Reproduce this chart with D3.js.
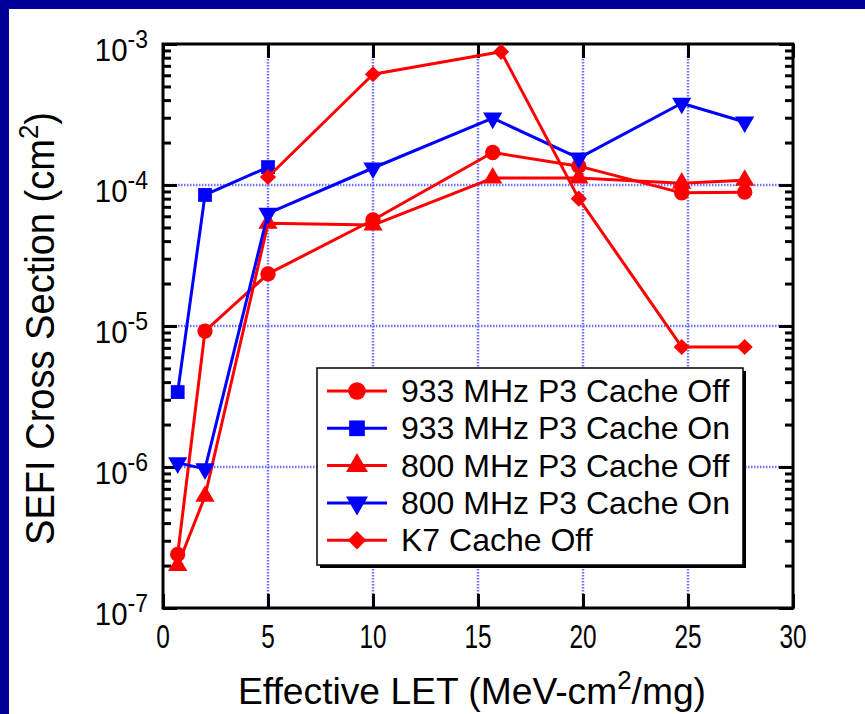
<!DOCTYPE html>
<html>
<head>
<meta charset="utf-8">
<script src="https://cdn.jsdelivr.net/npm/d3@7"></script>
<style>
  body { margin: 0; background: #fff; }
  svg { display: block; }
  text { font-family: "Liberation Sans", Arial, Helvetica, sans-serif; fill: #000; }
</style>
</head>
<body>
<div id="chart"></div>
<script>
// series data (LET in MeV-cm2/mg, cross section in cm2)
var seriesNames = ["933 MHz P3 Cache Off", "933 MHz P3 Cache On", "800 MHz P3 Cache Off", "800 MHz P3 Cache On", "K7 Cache Off"];
var letP3 = [0.7, 2.0, 5.0, 10.0, 15.7, 19.8, 24.7, 27.7];
var letP3On933 = [0.7, 2.0, 5.0];
var letK7 = [5.0, 10.0, 16.1, 19.8, 24.7, 27.7];
var off933 = [2.4e-7, 9.2e-6, 2.34e-5, 5.65e-5, 1.70e-4, 1.36e-4, 8.8e-5, 8.9e-5];
var on933 = [3.4e-6, 8.5e-5, 1.34e-4];
var off800 = [2.0e-7, 6.2e-7, 5.35e-5, 5.2e-5, 1.12e-4, 1.12e-4, 1.03e-4, 1.08e-4];
var on800 = [1.07e-6, 0.97e-6, 6.3e-5, 1.32e-4, 2.98e-4, 1.55e-4, 3.8e-4, 2.8e-4];
var k7Off = [1.14e-4, 6.1e-4, 8.8e-4, 8.0e-5, 7.1e-6, 7.1e-6];

var xTicks = [0, 5, 10, 15, 20, 25, 30];
var yDecades = [-7, -6, -5, -4, -3];

var W = 865, H = 714;
var margin = {top: 44, right: 72, bottom: 106, left: 163},
    width = W - margin.left - margin.right,
    height = H - margin.top - margin.bottom;

var svg = d3.select("#chart")
  .append("svg")
  .attr("width", W)
  .attr("height", H);

// navy frame (top + left)
svg.append("rect").attr("x", 0).attr("y", 0).attr("width", W).attr("height", 9).attr("fill", "#000099");
svg.append("rect").attr("x", 0).attr("y", 0).attr("width", 9).attr("height", H).attr("fill", "#000099");

var g = svg.append("g")
  .attr("transform", "translate(" + margin.left + "," + margin.top + ")");

var x = d3.scaleLinear().domain([0, 30]).range([0, width]);
var y = d3.scaleLog().domain([1e-7, 1e-3]).range([height, 0]);

var majorY = yDecades.map(function(p) { return Math.pow(10, p); });
var minorY = [];
yDecades.slice(0, -1).forEach(function(p) {
  for (var k = 2; k <= 9; k++) minorY.push(k * Math.pow(10, p));
});

// dotted grid
var gridColor = "#7070ff";
g.append("g").selectAll("line")
  .data(xTicks.slice(1, -1))
  .enter().append("line")
  .attr("x1", function(d) { return x(d); }).attr("x2", function(d) { return x(d); })
  .attr("y1", 0).attr("y2", height)
  .attr("stroke", gridColor).attr("stroke-width", 2.5).attr("stroke-dasharray", "1.5,1.5");
g.append("g").selectAll("line")
  .data(majorY.slice(1, -1))
  .enter().append("line")
  .attr("y1", function(d) { return y(d); }).attr("y2", function(d) { return y(d); })
  .attr("x1", 0).attr("x2", width)
  .attr("stroke", gridColor).attr("stroke-width", 2.5).attr("stroke-dasharray", "1.5,1.5");

// inward ticks on all four sides
function tickAxis(axis, tr) {
  var a = g.append("g").attr("transform", tr).call(axis);
  a.select(".domain").remove();
  a.selectAll(".tick line").attr("stroke", "#000").attr("stroke-width", 3);
  a.selectAll(".tick text").remove();
  return a;
}
tickAxis(d3.axisLeft(y).tickValues(majorY).tickSize(-14), "translate(0,0)");
tickAxis(d3.axisLeft(y).tickValues(minorY).tickSize(-8), "translate(0,0)");
tickAxis(d3.axisRight(y).tickValues(majorY).tickSize(-14), "translate(" + width + ",0)");
tickAxis(d3.axisRight(y).tickValues(minorY).tickSize(-8), "translate(" + width + ",0)");
tickAxis(d3.axisBottom(x).tickValues(xTicks).tickSize(-14), "translate(0," + height + ")");
tickAxis(d3.axisTop(x).tickValues(xTicks).tickSize(-14), "translate(0,0)");

g.append("rect")
  .attr("width", width).attr("height", height)
  .attr("fill", "none").attr("stroke", "#000").attr("stroke-width", 3);

// x tick labels (narrow face)
g.append("g").selectAll("text")
  .data(xTicks)
  .enter().append("text")
  .attr("transform", function(d) { return "translate(" + x(d) + "," + (height + 40) + ") scale(0.74,1)"; })
  .attr("text-anchor", "middle")
  .style("font-size", "33px")
  .text(function(d) { return d; });

// y tick labels 10^n
var yl = g.append("g").selectAll("text")
  .data(yDecades)
  .enter().append("text")
  .attr("transform", function(p) { return "translate(-15," + (y(Math.pow(10, p)) + 17) + ") scale(0.92,1)"; })
  .attr("text-anchor", "end");
yl.append("tspan").style("font-size", "32px").text("10");
yl.append("tspan").attr("dy", -13).style("font-size", "25px").text(function(p) { return p; });

// axis titles
var xt = svg.append("text")
  .attr("x", 238).attr("y", 704)
  .attr("textLength", 468).attr("lengthAdjust", "spacingAndGlyphs")
  .style("font-size", "36px");
xt.append("tspan").text("Effective LET (MeV-cm");
xt.append("tspan").attr("dy", -15).style("font-size", "25px").text("2");
xt.append("tspan").attr("dy", 15).text("/mg)");

var yt = svg.append("text")
  .attr("transform", "translate(54,545) rotate(-90)")
  .attr("textLength", 433).attr("lengthAdjust", "spacingAndGlyphs")
  .style("font-size", "40px");
yt.append("tspan").text("SEFI Cross Section (cm");
yt.append("tspan").attr("dy", -16).style("font-size", "27px").text("2");
yt.append("tspan").attr("dy", 16).text(")");

// series
var series = [
  {name: seriesNames[0], xs: letP3, ys: off933, color: "#ff0000", sym: d3.symbolCircle, size: 185, rot: 0},
  {name: seriesNames[1], xs: letP3On933, ys: on933, color: "#0000ff", sym: d3.symbolSquare, size: 190, rot: 0},
  {name: seriesNames[2], xs: letP3, ys: off800, color: "#ff0000", sym: d3.symbolTriangle, size: 160, rot: 0},
  {name: seriesNames[3], xs: letP3, ys: on800, color: "#0000ff", sym: d3.symbolTriangle, size: 160, rot: 180},
  {name: seriesNames[4], xs: letK7, ys: k7Off, color: "#ff0000", sym: d3.symbolSquare, size: 130, rot: 45}
];

var line = d3.line()
  .x(function(d) { return x(d[0]); })
  .y(function(d) { return y(d[1]); });

series.forEach(function(s) {
  var pts = s.xs.map(function(v, i) { return [v, s.ys[i]]; });
  g.append("path")
    .datum(pts)
    .attr("d", line)
    .attr("fill", "none")
    .attr("stroke", s.color)
    .attr("stroke-width", 3)
    .attr("stroke-linejoin", "round");
  g.append("g").selectAll("path")
    .data(pts)
    .enter().append("path")
    .attr("d", d3.symbol().type(s.sym).size(s.size))
    .attr("transform", function(d) { return "translate(" + x(d[0]) + "," + y(d[1]) + ") rotate(" + s.rot + ")"; })
    .attr("fill", s.color);
});

// legend
var lg = svg.append("g").attr("transform", "translate(317,368)");
lg.append("rect").attr("x", 3).attr("y", 3).attr("width", 426).attr("height", 197).attr("fill", "#000");
lg.append("rect").attr("width", 426).attr("height", 197).attr("fill", "#fff").attr("stroke", "#000").attr("stroke-width", 1.5);
var row = lg.selectAll("g.row")
  .data(series)
  .enter().append("g")
  .attr("class", "row")
  .attr("transform", function(d, i) { return "translate(0," + (23 + i * 37.3) + ")"; });
row.append("line")
  .attr("x1", 10).attr("x2", 70)
  .attr("stroke", function(d) { return d.color; })
  .attr("stroke-width", 3);
row.append("path")
  .attr("d", function(d) { return d3.symbol().type(d.sym).size(d.size * 1.3)(); })
  .attr("transform", function(d) { return "translate(40,0) rotate(" + d.rot + ")"; })
  .attr("fill", function(d) { return d.color; });
row.append("text")
  .attr("x", 84).attr("y", 11)
  .style("font-size", "32px")
  .text(function(d) { return d.name; });
</script>
</body>
</html>
